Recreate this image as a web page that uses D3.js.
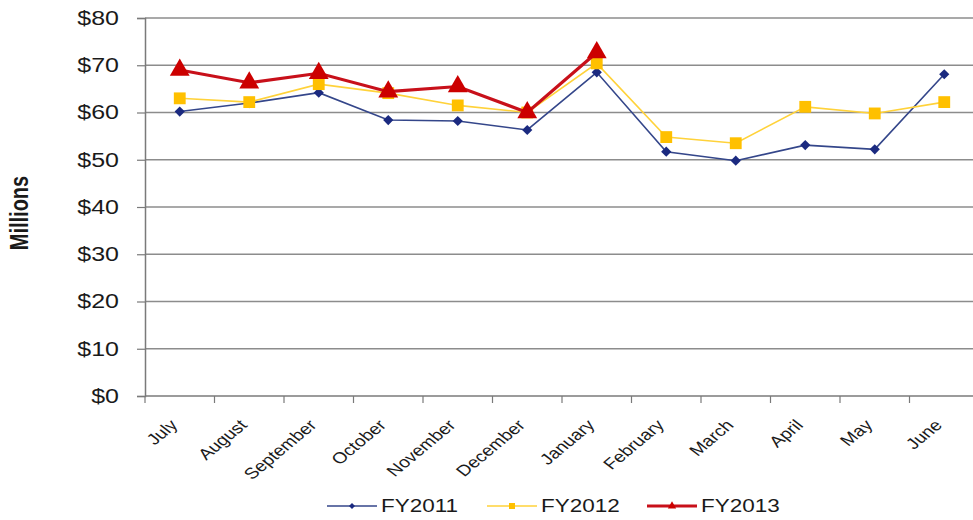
<!DOCTYPE html>
<html>
<head>
<meta charset="utf-8">
<script src="https://cdnjs.cloudflare.com/ajax/libs/d3/7.8.5/d3.min.js"></script>
<style>
  body { margin: 0; background: #fff; }
  svg { font-family: "Liberation Sans", Arial, sans-serif; }
</style>
</head>
<body>
<div id="chart"></div>
<script>
var months = ["July", "August", "September", "October", "November", "December",
  "January", "February", "March", "April", "May", "June"];
var fy2011 = [60.2, 62.0, 64.2, 58.4, 58.2, 56.3, 68.5, 51.7, 49.8, 53.1, 52.2, 68.1];
var fy2012 = [63.0, 62.2, 66.0, 64.1, 61.5, 60.0, 70.4, 54.8, 53.5, 61.2, 59.8, 62.2];
var fy2013 = [69.0, 66.3, 68.3, 64.4, 65.5, 60.0, 72.7];
var yTicks = [0, 10, 20, 30, 40, 50, 60, 70, 80];

var series = [
  { name: "FY2011", values: fy2011, line: "#34468a", mark: "#1b2a80", width: 1.6, shape: d3.symbolSquare, size: 52, rot: 45, lsize: 18 },
  { name: "FY2012", values: fy2012, line: "#ffd23a", mark: "#ffc000", width: 1.6, shape: d3.symbolSquare, size: 140, rot: 0, lsize: 36 },
  { name: "FY2013", values: fy2013, line: "#c8101a", mark: "#cc0000", width: 3.2, shape: d3.symbolTriangle, size: 170, rot: 0, lsize: 30 }
];

var width = 973, height = 520;
var margin = { left: 145, top: 18, bottom: 124 };
var stretch = 1.25; // text in the picture is wider than tall

var svg = d3.select("#chart").append("svg")
  .attr("width", width)
  .attr("height", height);

var x = d3.scaleBand().domain(months).range([margin.left, 979]);
var y = d3.scaleLinear().domain([0, 80]).range([height - margin.bottom, margin.top]);

// gridlines
svg.append("g")
  .selectAll("line")
  .data(yTicks.slice(1))
  .enter().append("line")
  .attr("x1", margin.left).attr("x2", width)
  .attr("y1", function(d) { return y(d); })
  .attr("y2", function(d) { return y(d); })
  .attr("stroke", "#8c8c8c")
  .attr("stroke-width", 1.5);

// y axis
var yAxis = svg.append("g")
  .attr("transform", "translate(" + margin.left + ",0)")
  .call(d3.axisLeft(y).tickValues(yTicks).tickSize(8).tickPadding(10)
    .tickFormat(function(d) { return "$" + d; }));
yAxis.select(".domain").attr("stroke", "#7a7a7a").attr("stroke-width", 1.5);
yAxis.selectAll(".tick line").attr("stroke", "#7a7a7a").attr("stroke-width", 1.2);
yAxis.selectAll("text")
  .style("font-size", "20px")
  .attr("fill", "#1a1a1a")
  .attr("x", -26 / stretch)
  .attr("transform", "scale(" + stretch + ",1)");

// x axis (ticks between categories)
var xAxisG = svg.append("g")
  .attr("transform", "translate(0," + y(0) + ")");
xAxisG.append("line")
  .attr("x1", margin.left).attr("x2", width)
  .attr("stroke", "#7a7a7a").attr("stroke-width", 1.5);
xAxisG.selectAll(".xt")
  .data(months)
  .enter().append("line")
  .attr("class", "xt")
  .attr("x1", function(d) { return x(d); })
  .attr("x2", function(d) { return x(d); })
  .attr("y1", 0).attr("y2", 7)
  .attr("stroke", "#7a7a7a").attr("stroke-width", 1.2);
xAxisG.selectAll(".xl")
  .data(months)
  .enter().append("text")
  .attr("class", "xl")
  .attr("text-anchor", "end")
  .attr("transform", function(d) {
    return "translate(" + (x(d) + x.bandwidth() / 2 - 1) + ",30) scale(" + stretch + ",1) rotate(-46)";
  })
  .style("font-size", "15.5px")
  .attr("fill", "#1a1a1a")
  .text(function(d) { return d; });

// y label
svg.append("text")
  .attr("transform", "translate(28," + (y(40) + 6) + ") scale(" + stretch + ",1) rotate(-90)")
  .attr("text-anchor", "middle")
  .style("font-size", "20px")
  .style("font-weight", "bold")
  .attr("fill", "#1a1a1a")
  .text("Millions");

// lines and markers
var line = d3.line()
  .x(function(d, i) { return x(months[i]) + x.bandwidth() / 2; })
  .y(function(d) { return y(d); });

series.forEach(function(s) {
  svg.append("path")
    .datum(s.values)
    .attr("fill", "none")
    .attr("stroke", s.line)
    .attr("stroke-width", s.width)
    .attr("d", line);
  svg.append("g")
    .selectAll("path")
    .data(s.values)
    .enter().append("path")
    .attr("transform", function(d, i) {
      return "translate(" + (x(months[i]) + x.bandwidth() / 2) + "," + y(d) + ") rotate(" + s.rot + ")";
    })
    .attr("d", d3.symbol().type(s.shape).size(s.size))
    .attr("fill", s.mark);
});

// legend
var legendX = [327, 487, 647];
var legend = svg.append("g");
series.forEach(function(s, i) {
  var g = legend.append("g").attr("transform", "translate(" + legendX[i] + ",506)");
  g.append("line").attr("x1", 0).attr("x2", 50)
    .attr("stroke", s.line).attr("stroke-width", s.width);
  g.append("path").attr("transform", "translate(25,0) rotate(" + s.rot + ")")
    .attr("d", d3.symbol().type(s.shape).size(s.lsize))
    .attr("fill", s.mark);
  g.append("text").attr("x", 54 / stretch).attr("dy", "0.36em")
    .attr("transform", "scale(" + stretch + ",1)")
    .style("font-size", "18px").attr("fill", "#1a1a1a")
    .text(s.name);
});
</script>
</body>
</html>
